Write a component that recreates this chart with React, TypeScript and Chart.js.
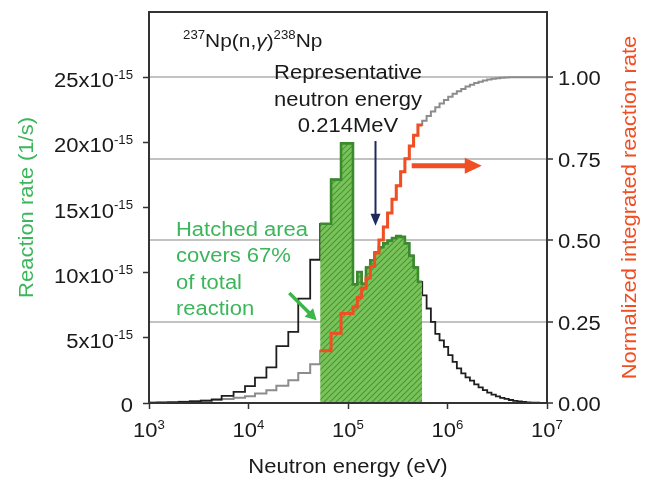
import React, { useEffect, useRef } from 'react';
import { Chart, registerables } from 'chart.js';

Chart.register(...registerables);

const FONT = '"Liberation Sans", Arial, Helvetica, sans-serif';
const SX = 1.1;

// Bin edges of the energy group structure, log10(E / eV)
const BIN_EDGES_LOG = [
  3.0, 3.08, 3.19, 3.3, 3.41, 3.52, 3.63, 3.73, 3.85, 3.965, 4.065, 4.18, 4.28, 4.4, 4.5, 4.62, 4.72, 4.83, 4.93, 5.05,
  5.094, 5.137, 5.181, 5.224, 5.268, 5.311, 5.355, 5.398, 5.442, 5.485, 5.529, 5.572, 5.616, 5.659, 5.703, 5.746,
  5.79, 5.833, 5.877, 5.92, 5.964, 6.007, 6.051, 6.094, 6.138, 6.181, 6.225, 6.268, 6.312, 6.355, 6.399, 6.442,
  6.486, 6.529, 6.573, 6.616, 6.66, 6.703, 6.747, 6.79, 6.834, 6.877, 6.921, 6.964, 7.0,
];

// Reaction rate per bin (x10^-15 1/s)
const REACTION_RATE = [
  0.02, 0.03, 0.05, 0.08, 0.12, 0.18, 0.28, 0.54, 0.86, 1.3, 1.94, 2.73, 4.36, 5.46, 8.01, 10.99,
  13.75, 17.14, 19.92,
  9.1, 10.05, 9.15, 10.4, 10.95, 11.55, 11.95, 12.25, 12.45, 12.65, 12.8, 12.75, 12.25, 11.3, 10.4, 9.3,
  8.26, 7.25, 6.22, 5.3, 4.8, 4.31, 3.67, 3.16, 2.65, 2.27, 1.97, 1.71, 1.43, 1.2, 0.99, 0.8, 0.65, 0.51,
  0.4, 0.31, 0.23, 0.17, 0.12, 0.08, 0.05, 0.03, 0.02, 0.01, 0.005,
];

// Normalized integrated reaction rate per bin
const INTEGRATED_RATE = [
  0.001, 0.002, 0.003, 0.004, 0.005, 0.007, 0.009, 0.012, 0.016, 0.021, 0.029, 0.039, 0.053, 0.07, 0.092, 0.119,
  0.16, 0.214, 0.275,
  0.295, 0.324, 0.352, 0.384, 0.42, 0.46, 0.5, 0.54, 0.583, 0.625, 0.667, 0.71, 0.75, 0.789, 0.822, 0.853,
  0.866, 0.881, 0.895, 0.908, 0.919, 0.93, 0.94, 0.949, 0.957, 0.964, 0.971, 0.977, 0.982, 0.986, 0.99, 0.993,
  0.995, 0.997, 0.998, 0.999, 0.9995, 1, 1, 1, 1, 1, 1, 1, 1,
];

// Hatched (67%) bins
const HATCH_FIRST = 16;
const HATCH_LAST = 34;

const LEFT_TICKS = [0, 5, 10, 15, 20, 25];
const RIGHT_TICKS = [0, 0.25, 0.5, 0.75, 1.0];
const RIGHT_TICK_LABELS = ['0.00', '0.25', '0.50', '0.75', '1.00'];
const X_TICK_EXPONENTS = [3, 4, 5, 6, 7];

const GREEN_TEXT = '#3bb65b';
const ORANGE = '#f04e23';
const NAVY = '#1c2a5c';
const INK = '#1a1a1a';

type Part = { t: string; size: number; dy?: number; italic?: boolean };

function fontOf(p: Part) {
  return `${p.italic ? 'italic ' : ''}${p.size}px ${FONT}`;
}

function drawRich(ctx: CanvasRenderingContext2D, parts: Part[], x: number, y: number, align: 'left' | 'right' | 'center', color: string) {
  ctx.save();
  const widths = parts.map((p) => {
    ctx.font = fontOf(p);
    return ctx.measureText(p.t).width;
  });
  const total = widths.reduce((s, w) => s + w, 0) * SX;
  const start = align === 'left' ? x : align === 'right' ? x - total : x - total / 2;
  ctx.translate(start, y);
  ctx.scale(SX, 1);
  ctx.fillStyle = color;
  ctx.textAlign = 'left';
  ctx.textBaseline = 'alphabetic';
  let cx = 0;
  parts.forEach((p, i) => {
    ctx.font = fontOf(p);
    ctx.fillText(p.t, cx, p.dy || 0);
    cx += widths[i];
  });
  ctx.restore();
}

function arrow(ctx: CanvasRenderingContext2D, x1: number, y1: number, x2: number, y2: number, color: string, lw: number, headLen: number, headHalf: number) {
  const ang = Math.atan2(y2 - y1, x2 - x1);
  const bx = x2 - Math.cos(ang) * headLen;
  const by = y2 - Math.sin(ang) * headLen;
  ctx.save();
  ctx.strokeStyle = color;
  ctx.fillStyle = color;
  ctx.lineWidth = lw;
  ctx.beginPath();
  ctx.moveTo(x1, y1);
  ctx.lineTo(bx + Math.cos(ang) * 1, by + Math.sin(ang) * 1);
  ctx.stroke();
  ctx.beginPath();
  ctx.moveTo(x2, y2);
  ctx.lineTo(bx + Math.sin(ang) * headHalf, by - Math.cos(ang) * headHalf);
  ctx.lineTo(bx - Math.sin(ang) * headHalf, by + Math.cos(ang) * headHalf);
  ctx.closePath();
  ctx.fill();
  ctx.restore();
}

// Histogram outline: each bin value held from its left edge to its right edge
function stepPoints(values: number[], first: number, last: number) {
  const pts: { x: number; y: number }[] = [];
  for (let i = first; i <= last; i++) pts.push({ x: Math.pow(10, BIN_EDGES_LOG[i]), y: values[i] });
  pts.push({ x: Math.pow(10, BIN_EDGES_LOG[last + 1]), y: values[last] });
  return pts;
}

function makeHatch(): CanvasPattern | string {
  const s = 6;
  const c = document.createElement('canvas');
  c.width = s;
  c.height = s;
  const g = c.getContext('2d');
  if (!g) return '#79c259';
  g.fillStyle = '#7ac35a';
  g.fillRect(0, 0, s, s);
  g.strokeStyle = '#4a9537';
  g.lineWidth = 1.1;
  g.beginPath();
  g.moveTo(0, s);
  g.lineTo(s, 0);
  g.moveTo(-1, 1);
  g.lineTo(1, -1);
  g.moveTo(s - 1, s + 1);
  g.lineTo(s + 1, s - 1);
  g.stroke();
  return g.createPattern(c, 'repeat') || '#79c259';
}

const overlay = {
  id: 'overlay',
  afterDraw(chart: any) {
    const { ctx, chartArea: a, scales } = chart;
    const xs = scales.x;
    const ys = scales.y;
    const y2s = scales.y2;
    const X = (e: number) => xs.getPixelForValue(e);
    const Y = (v: number) => ys.getPixelForValue(v);
    const Y2 = (v: number) => y2s.getPixelForValue(v);

    // frame
    ctx.save();
    ctx.strokeStyle = '#333';
    ctx.lineWidth = 2;
    ctx.strokeRect(a.left, a.top, a.right - a.left, a.bottom - a.top);
    ctx.restore();

    // left tick labels
    LEFT_TICKS.forEach((v) => {
      const py = Y(v);
      if (v === 0) drawRich(ctx, [{ t: '0', size: 20 }], a.left - 16, py + 9, 'right', INK);
      else drawRich(ctx, [{ t: `${v}x10`, size: 20 }, { t: '-15', size: 12, dy: -8.5 }], a.left - 16, py + 10, 'right', INK);
    });
    // right tick labels
    RIGHT_TICKS.forEach((v, i) => {
      drawRich(ctx, [{ t: RIGHT_TICK_LABELS[i], size: 20 }], a.right + 11, Y2(v) + 8, 'left', INK);
    });
    // x tick labels
    X_TICK_EXPONENTS.forEach((e) => {
      drawRich(ctx, [{ t: '10', size: 20 }, { t: String(e), size: 12, dy: -8 }], X(Math.pow(10, e)), a.bottom + 34, 'center', INK);
    });

    const cy = (a.top + a.bottom) / 2;
    // axis titles
    ctx.save();
    ctx.translate(33, cy);
    ctx.rotate(-Math.PI / 2);
    drawRich(ctx, [{ t: 'Reaction rate (1/s)', size: 20 }], 0, 0, 'center', GREEN_TEXT);
    ctx.restore();
    ctx.save();
    ctx.translate(636, cy);
    ctx.rotate(-Math.PI / 2);
    drawRich(ctx, [{ t: 'Normalized integrated reaction rate', size: 20 }], 0, 0, 'center', ORANGE);
    ctx.restore();
    drawRich(ctx, [{ t: 'Neutron energy (eV)', size: 20 }], (a.left + a.right) / 2, a.bottom + 70, 'center', INK);

    // reaction label
    drawRich(
      ctx,
      [
        { t: '237', size: 12, dy: -8 },
        { t: 'Np(n,', size: 19 },
        { t: 'γ', size: 19, italic: true },
        { t: ')', size: 19 },
        { t: '238', size: 12, dy: -8 },
        { t: 'Np', size: 19 },
      ],
      X(2200),
      Y(27.28),
      'left',
      INK
    );

    // representative energy text
    drawRich(ctx, [{ t: 'Representative', size: 20 }], X(1e5), Y(24.84), 'center', INK);
    drawRich(ctx, [{ t: 'neutron energy', size: 20 }], X(1e5), Y(22.8), 'center', INK);
    drawRich(ctx, [{ t: '0.214MeV', size: 20 }], X(1e5), Y(20.76), 'center', INK);

    // hatched text
    const hx = X(1866);
    drawRich(ctx, [{ t: 'Hatched area', size: 20 }], hx, Y(12.85), 'left', GREEN_TEXT);
    drawRich(ctx, [{ t: 'covers 67%', size: 20 }], hx, Y(10.81), 'left', GREEN_TEXT);
    drawRich(ctx, [{ t: 'of total', size: 20 }], hx, Y(8.78), 'left', GREEN_TEXT);
    drawRich(ctx, [{ t: 'reaction', size: 20 }], hx, Y(6.73), 'left', GREEN_TEXT);

    // arrows
    arrow(ctx, X(1.89e5), Y(20.1), X(1.89e5), Y(13.6), NAVY, 2, 12, 5);
    arrow(ctx, X(4.37e5), Y2(0.728), X(2.21e6), Y2(0.728), ORANGE, 5, 17, 8);
    arrow(ctx, X(2.57e4), Y(8.44), X(4.84e4), Y(6.35), '#3cb54a', 3.5, 11, 6);
  },
};

export default function App() {
  const ref = useRef<HTMLCanvasElement | null>(null);

  useEffect(() => {
    document.body.style.margin = '0';
    const canvas = ref.current;
    if (!canvas) return;
    const hatch = makeHatch();
    const chart = new Chart(canvas, {
      type: 'line',
      data: {
        datasets: [
          {
            label: 'integrated (hatched range)',
            data: stepPoints(INTEGRATED_RATE, HATCH_FIRST, HATCH_LAST),
            yAxisID: 'y2',
            stepped: 'before',
            borderColor: ORANGE,
            borderWidth: 3,
            pointRadius: 0,
            fill: false,
          },
          {
            label: 'hatched',
            data: stepPoints(REACTION_RATE, HATCH_FIRST, HATCH_LAST),
            yAxisID: 'y',
            stepped: 'before',
            borderColor: '#3a8a2e',
            borderWidth: 2.6,
            backgroundColor: hatch as any,
            pointRadius: 0,
            fill: 'origin',
          },
          {
            label: 'reaction rate',
            data: stepPoints(REACTION_RATE, 0, REACTION_RATE.length - 1),
            yAxisID: 'y',
            stepped: 'before',
            borderColor: '#1e1e1e',
            borderWidth: 1.8,
            pointRadius: 0,
            fill: false,
          },
          {
            label: 'integrated',
            data: stepPoints(INTEGRATED_RATE, 0, INTEGRATED_RATE.length - 1),
            yAxisID: 'y2',
            stepped: 'before',
            borderColor: '#8c8c8c',
            borderWidth: 2,
            pointRadius: 0,
            fill: false,
          },
        ],
      },
      options: {
        animation: false,
        responsive: false,
        layout: { padding: { top: 12, left: 0, right: 0, bottom: 0 } },
        plugins: { legend: { display: false }, tooltip: { enabled: false } },
        scales: {
          x: {
            type: 'logarithmic',
            min: 1e3,
            max: 1e7,
            position: 'bottom',
            afterBuildTicks: (s: any) => {
              s.ticks = X_TICK_EXPONENTS.map((e) => ({ value: Math.pow(10, e) }));
            },
            ticks: { display: false },
            grid: { drawOnChartArea: false, drawTicks: true, tickLength: 6, tickColor: '#333', tickWidth: 1.5 },
            border: { display: false },
            afterFit: (s: any) => {
              s.height = 76;
            },
          },
          y: {
            position: 'left',
            min: 0,
            max: 30,
            afterBuildTicks: (s: any) => {
              s.ticks = LEFT_TICKS.map((v) => ({ value: v }));
            },
            ticks: { display: false },
            grid: { drawOnChartArea: false, drawTicks: true, tickLength: 6, tickColor: '#333', tickWidth: 1.5 },
            border: { display: false },
            afterFit: (s: any) => {
              s.width = 149;
            },
          },
          y2: {
            position: 'right',
            min: 0,
            max: 1.2,
            afterBuildTicks: (s: any) => {
              s.ticks = RIGHT_TICKS.map((v) => ({ value: v }));
            },
            ticks: { display: false },
            grid: {
              drawOnChartArea: true,
              color: '#c2c2c2',
              lineWidth: 2,
              drawTicks: true,
              tickLength: 6,
              tickColor: '#333',
              tickWidth: 1.5,
            },
            border: { display: false },
            afterFit: (s: any) => {
              s.width = 104;
            },
          },
        },
      },
      plugins: [overlay],
    } as any);
    return () => chart.destroy();
  }, []);

  return (
    <div style={{ width: 651, height: 479 }}>
      <canvas ref={ref} width={651} height={479} style={{ display: 'block' }} />
    </div>
  );
}
